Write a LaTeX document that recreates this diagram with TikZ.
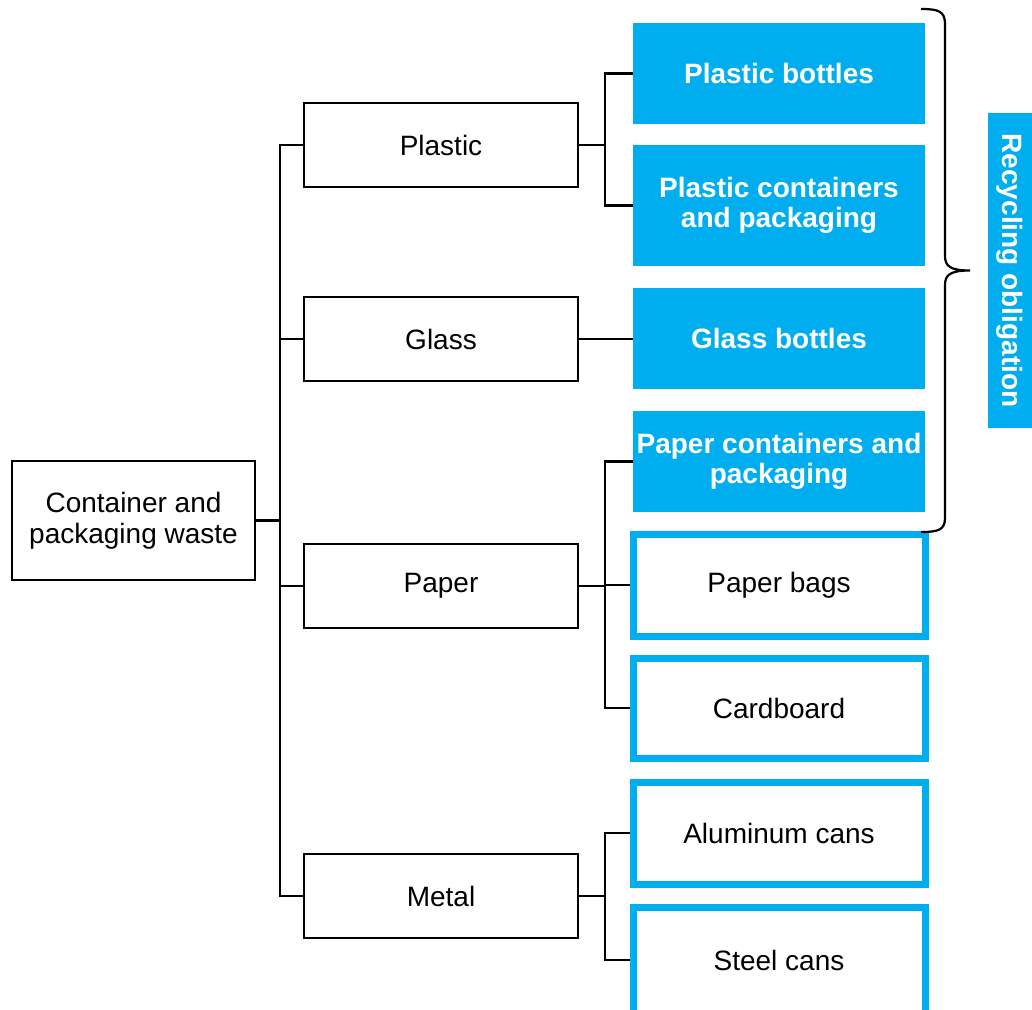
\documentclass[tikz,border=0pt]{standalone}
\usepackage{fontspec}
\setmainfont{Liberation Sans}
\definecolor{cyanbox}{RGB}{0,174,239}
\begin{document}
\begin{tikzpicture}[x=1pt,y=-1pt,
  every node/.style={font=\fontsize{28}{31}\selectfont, align=center, inner sep=0pt},
  catbox/.style={draw=black, line width=2.5pt, minimum width=274pt, minimum height=84pt},
  bluebox/.style={fill=cyanbox, text=white, font=\fontsize{28}{30}\selectfont\bfseries, minimum width=292pt},
  outbox/.style={draw=cyanbox, line width=7pt, fill=white, minimum width=292pt},
  conn/.style={draw=black, line width=2.5pt}]
\useasboundingbox (0,0) rectangle (1032,1009);
\fill[white] (0,0) rectangle (1032,1009);

% root
\node[draw=black, line width=2.5pt, minimum width=243pt, minimum height=119pt] (root) at (133.5,520.5) {Container and\\packaging waste};

% categories
\node[catbox] (plastic) at (441,145) {Plastic};
\node[catbox] (glass) at (441,339) {Glass};
\node[catbox] (paper) at (441,586) {Paper};
\node[catbox] (metal) at (441,896) {Metal};

% blue boxes
\node[bluebox, minimum height=101pt] (pb) at (779,73.5) {Plastic bottles};
\node[bluebox, minimum height=121pt] (pc) at (779,205.5) {Plastic containers\\and packaging};
\node[bluebox, minimum height=101pt] (gb) at (779,338.5) {Glass bottles};
\node[bluebox, minimum height=101pt] (pp) at (779,461.5) {Paper containers and\\packaging};

% outlined boxes
\node[outbox, minimum height=102pt] (bags) at (779,585) {Paper bags};
\node[outbox, minimum height=100pt] (card) at (779,708) {Cardboard};
\node[outbox, minimum height=102pt] (alu) at (779,833) {Aluminum cans};
\node[outbox, minimum height=106pt, text depth=0pt] (steel) at (779,960) {Steel cans};

% recycling label
\node[fill=cyanbox, text=white, font=\fontsize{28}{30}\selectfont\bfseries, rotate=-90,
      minimum width=315pt, minimum height=44pt] (rec) at (1010,270.5) {Recycling obligation};

% trunk connectors
\coordinate (t) at (280,0);
\coordinate (s) at (605,0);
\draw[conn] (root.east) -- (root.east -| t);
\draw[conn] (plastic.west) -- (plastic.west -| t) -- (metal.west -| t) -- (metal.west);
\draw[conn] (glass.west) -- (glass.west -| t);
\draw[conn] (paper.west) -- (paper.west -| t);

% plastic
\draw[conn] (plastic.east) -- (plastic.east -| s);
\draw[conn] (pb.west) -- (pb.west -| s) -- (pc.west -| s) -- (pc.west);
% glass
\draw[conn] (glass.east) -- (glass.east -| gb.west);
% paper
\draw[conn] (paper.east) -- (paper.east -| s);
\draw[conn] (pp.west) -- (pp.west -| s) -- (card.west -| s) -- (card.west);
\draw[conn] (bags.west -| s) -- (bags.west);
% metal
\draw[conn] (metal.east) -- (metal.east -| s);
\draw[conn] (alu.west) -- (alu.west -| s) -- (steel.west -| s) -- (steel.west);

% brace
\coordinate (btop) at (921,9);
\coordinate (bbot) at (921,532);
\coordinate (btip) at (970,270.5);
\draw[conn, line width=2.2pt] (btop) .. controls (938,9) and (945,11) .. (945,24) -- (945,256)
   .. controls (945,266) and (950,270.5) .. (btip)
   .. controls (950,270.5) and (945,275) .. (945,285) -- (945,518)
   .. controls (945,530) and (938,532) .. (bbot);
\end{tikzpicture}
\end{document}
